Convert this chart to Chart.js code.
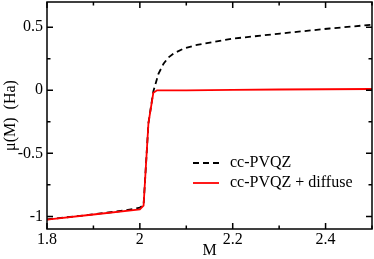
<!DOCTYPE html>
<html>
<head>
<meta charset="utf-8">
<script src="https://cdn.jsdelivr.net/npm/chart.js@4.4.1/dist/chart.umd.min.js"></script>
<style>
  html, body { margin: 0; padding: 0; background: #fff; }
  #wrap { width: 374px; height: 259px; }
</style>
</head>
<body>
<div id="wrap"><canvas id="mu-chart" width="374" height="259"></canvas></div>
<script>
/* μ(M) vs M — two basis sets */

// cc-PVQZ (dashed black)
const mBasis  = [1.8, 1.9, 1.97, 2.0, 2.008, 2.0185, 2.029, 2.040, 2.051, 2.0615, 2.072, 2.094, 2.123, 2.169, 2.201, 2.302, 2.409, 2.5];
const muBasis = [-1.024, -0.984, -0.952, -0.93, -0.91, -0.26, -0.01, 0.13, 0.21, 0.26, 0.29, 0.33, 0.36, 0.39, 0.41, 0.45, 0.49, 0.52];

// cc-PVQZ + diffuse (red)
const mDiffuse  = [1.8, 1.9, 2.0, 2.008, 2.0185, 2.029, 2.037, 2.1, 2.2, 2.3, 2.4, 2.5];
const muDiffuse = [-1.025, -0.985, -0.945, -0.915, -0.26, -0.02, 0.0, 0.0, 0.003, 0.006, 0.008, 0.01];

const seriesNames = ['cc-PVQZ', 'cc-PVQZ + diffuse'];

// axis ticks
const xMajor = [1.8, 2.0, 2.2, 2.4];
const xMinor = [1.9, 2.1, 2.3, 2.5];
const yMajor = [-1, -0.5, 0, 0.5];
const yMinor = [-0.75, -0.25, 0.25];

const SERIF = "'Liberation Serif', 'DejaVu Serif', serif";

const toPoints = (xs, ys) => xs.map((x, i) => ({ x, y: ys[i] }));

// ticks pointing inward on all four sides + closed frame
const framePlugin = {
    id: 'frame',
    afterDraw(chart) {
        const { ctx, chartArea: a, scales } = chart;
        ctx.save();
        ctx.strokeStyle = '#000';
        ctx.lineWidth = 1.5;
        ctx.strokeRect(a.left, a.top, a.right - a.left, a.bottom - a.top);

        const tick = (vals, len, horiz) => {
            vals.forEach(v => {
                ctx.beginPath();
                if (horiz) {
                    const px = scales.x.getPixelForValue(v);
                    ctx.moveTo(px, a.bottom); ctx.lineTo(px, a.bottom - len);
                    ctx.moveTo(px, a.top); ctx.lineTo(px, a.top + len);
                } else {
                    const py = scales.y.getPixelForValue(v);
                    ctx.moveTo(a.left, py); ctx.lineTo(a.left + len, py);
                    ctx.moveTo(a.right, py); ctx.lineTo(a.right - len, py);
                }
                ctx.stroke();
            });
        };
        tick(xMajor, 6, true);
        tick(xMinor, 3.5, true);
        tick(yMajor, 6, false);
        tick(yMinor, 3.5, false);
        ctx.restore();
    }
};

// legend drawn inside the plot, lower right
const innerLegend = {
    id: 'innerLegend',
    afterDraw(chart) {
        const { ctx, chartArea: a } = chart;
        const x0 = a.left + 146, y0 = a.top + 161, row = 20;
        ctx.save();
        chart.data.datasets.forEach((ds, i) => {
            const y = y0 + i * row;
            ctx.beginPath();
            ctx.strokeStyle = ds.borderColor;
            ctx.lineWidth = ds.borderWidth;
            ctx.setLineDash(ds.borderDash || []);
            ctx.moveTo(x0, y); ctx.lineTo(x0 + 26, y);
            ctx.stroke();
            ctx.setLineDash([]);
            ctx.fillStyle = '#000';
            ctx.font = `16px ${SERIF}`;
            ctx.textBaseline = 'middle';
            ctx.fillText(ds.label, x0 + 37, y);
        });
        ctx.restore();
    }
};

const fmt = v => String(+v.toFixed(2));

new Chart(document.getElementById('mu-chart'), {
    type: 'scatter',
    data: {
        datasets: [
            {
                label: seriesNames[0],
                data: toPoints(mBasis, muBasis),
                showLine: true,
                borderColor: '#000',
                borderWidth: 1.8,
                borderDash: [6, 4],
                pointRadius: 0,
                order: 2
            },
            {
                label: seriesNames[1],
                data: toPoints(mDiffuse, muDiffuse),
                showLine: true,
                borderColor: '#ff0000',
                borderWidth: 1.8,
                pointRadius: 0,
                order: 1
            }
        ]
    },
    options: {
        responsive: false,
        animation: false,
        devicePixelRatio: 1,
        layout: { padding: { top: 2, right: 2, left: 0, bottom: 0 } },
        plugins: {
            legend: { display: false },
            tooltip: { enabled: false }
        },
        scales: {
            x: {
                type: 'linear',
                min: 1.8,
                max: 2.5,
                grid: { display: false, drawTicks: false },
                border: { display: false },
                ticks: {
                    stepSize: 0.2,
                    includeBounds: false,
                    maxRotation: 0,
                    padding: 1,
                    color: '#000',
                    font: { family: SERIF, size: 16 },
                    callback: fmt
                },
                title: {
                    display: true,
                    text: 'M',
                    color: '#000',
                    font: { family: SERIF, size: 16, lineHeight: 1 },
                    padding: { top: 0, bottom: 0 }
                },
                afterFit: s => {
                    s.height = 30;
                    s.paddingLeft = 0;
                    s.paddingRight = 0;
                }
            },
            y: {
                type: 'linear',
                min: -1.1,
                max: 0.7,
                grid: { display: false, drawTicks: false },
                border: { display: false },
                ticks: {
                    stepSize: 0.5,
                    includeBounds: false,
                    padding: 4,
                    color: '#000',
                    font: { family: SERIF, size: 16 },
                    callback: fmt
                },
                title: {
                    display: true,
                    text: 'μ(M)  (Ha)',
                    color: '#000',
                    font: { family: SERIF, size: 16, lineHeight: 1 },
                    padding: { top: 3, bottom: 0 }
                },
                afterFit: s => {
                    s.width = 47;
                    s.paddingTop = 0;
                    s.paddingBottom = 0;
                }
            }
        }
    },
    plugins: [framePlugin, innerLegend]
});
</script>
</body>
</html>
